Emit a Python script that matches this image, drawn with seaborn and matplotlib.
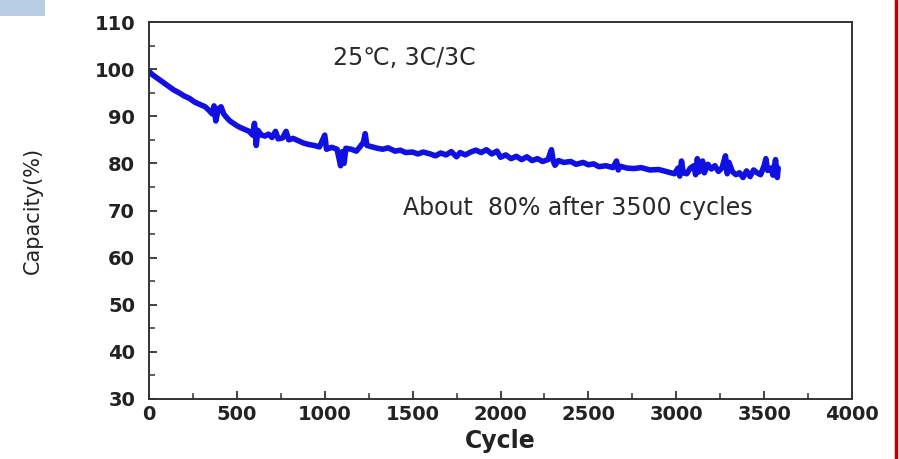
import matplotlib
matplotlib.use("Agg")
import matplotlib.pyplot as plt
import seaborn as sns
import pandas as pd
from matplotlib.ticker import MultipleLocator
from matplotlib.patches import Rectangle
from matplotlib.lines import Line2D

cycles = [0, 20, 50, 80, 110, 140, 170, 200, 230, 260, 290, 320, 340, 360, 370, 380, 395,
          410, 425, 440, 460, 480, 500, 520, 545, 570, 590, 600, 610, 620, 640, 660, 680,
          700, 720, 735, 760, 780, 795, 820, 850, 880, 910, 940, 970, 1000, 1010, 1040,
          1070, 1090, 1100, 1110, 1120, 1150, 1180, 1200, 1220, 1230, 1240, 1270, 1300,
          1330, 1360, 1400, 1430, 1460, 1500, 1530, 1560, 1600, 1630, 1660, 1690, 1720,
          1750, 1770, 1800, 1830, 1860, 1890, 1920, 1950, 1980, 2000, 2030, 2060, 2090,
          2120, 2150, 2180, 2210, 2240, 2270, 2290, 2300, 2310, 2330, 2360, 2400, 2430,
          2470, 2500, 2530, 2560, 2600, 2640, 2660, 2670, 2680, 2720, 2760, 2800, 2850,
          2900, 2950, 2990, 3010, 3020, 3030, 3040, 3060, 3080, 3100, 3110, 3120, 3130,
          3150, 3160, 3180, 3200, 3220, 3240, 3260, 3280, 3290, 3300, 3320, 3340, 3360,
          3380, 3400, 3420, 3440, 3460, 3480, 3500, 3510, 3520, 3540, 3550, 3565, 3575,
          3580]
capacity = [99.5, 98.8, 98.0, 97.2, 96.4, 95.6, 95.0, 94.3, 93.8, 93.0, 92.5, 92.0, 91.3,
            90.5, 92.2, 89.0, 91.6, 92.0, 90.5, 89.8, 89.0, 88.5, 88.0, 87.6, 87.2, 86.8,
            86.0, 88.5, 83.8, 87.0, 86.0, 85.8, 86.2, 85.5, 86.8, 85.2, 85.4, 86.8, 85.0,
            85.3, 84.8, 84.3, 84.0, 83.8, 83.5, 86.0, 83.0, 83.4, 83.0, 79.5, 82.5, 80.0,
            83.2, 83.0, 82.6, 83.5, 84.5, 86.3, 83.8, 83.5, 83.2, 83.0, 83.3, 82.6, 82.8,
            82.3, 82.4, 82.0, 82.4, 82.0, 81.6, 82.2, 81.8, 82.5, 81.4, 82.3, 81.8, 82.4,
            82.8, 82.3, 82.9, 82.0, 82.6, 81.3, 81.8, 81.0, 81.5, 80.8, 81.4, 80.6, 81.0,
            80.4, 80.8, 82.9, 80.5, 79.6, 80.6, 80.2, 80.4, 79.8, 80.2, 79.7, 79.9, 79.3,
            79.5, 79.1, 80.5, 78.6, 79.4, 79.0, 78.9, 79.1, 78.6, 78.7, 78.2, 77.8, 79.0,
            77.3, 80.5, 78.0, 77.8, 79.0, 79.5, 77.6, 81.0, 78.2, 80.5, 78.0, 79.8, 78.8,
            79.5, 78.3, 79.0, 81.6, 77.8, 80.2, 78.2, 77.6, 78.0, 77.0, 78.4, 77.2, 78.6,
            78.0, 77.6, 79.5, 81.0, 78.5, 79.0, 77.5, 80.8, 77.0, 79.0]

x_ticks = [0, 500, 1000, 1500, 2000, 2500, 3000, 3500, 4000]
y_ticks = [30, 40, 50, 60, 70, 80, 90, 100, 110]

df = pd.DataFrame({"Cycle": cycles, "Capacity": capacity})

sns.set_style("ticks")
plt.rcParams['font.family'] = ['DejaVu Sans']

fig = plt.figure(figsize=(8.99, 4.59), dpi=100)
ax = fig.add_axes([149 / 899, 1 - 399 / 459, (852 - 149) / 899, (399 - 22) / 459])

sns.lineplot(data=df, x="Cycle", y="Capacity", ax=ax, sort=False, estimator=None,
             color="#1010e2", linewidth=4.0)

ax.set_xlim(0, 4000)
ax.set_ylim(30, 110)
ax.set_xticks(x_ticks)
ax.set_yticks(y_ticks)
ax.xaxis.set_minor_locator(MultipleLocator(250))
ax.yaxis.set_minor_locator(MultipleLocator(5))
ax.tick_params(axis='both', which='major', direction='in', length=6, width=1.3,
               color='#333333', top=False, right=False, labelsize=14)
ax.tick_params(axis='x', which='major', pad=4)
ax.tick_params(axis='y', which='major', pad=10)
ax.tick_params(axis='both', which='minor', direction='in', length=4, width=1.1,
               color='#333333', top=False, right=False)
for lab in ax.get_xticklabels() + ax.get_yticklabels():
    lab.set_fontweight('bold')
    lab.set_color('#222222')
for s in ax.spines.values():
    s.set_visible(True)
    s.set_linewidth(1.4)
    s.set_color('#333333')

ax.set_xlabel("Cycle", fontsize=17, fontweight='bold', color='#222222', labelpad=4)
ax.set_ylabel("Capacity(%)", fontsize=15, color='#222222')
ax.yaxis.set_label_coords((43 - 149) / 703, 0.5)

ax.text(1047, 102.4, "25\u2103, 3C/3C", fontsize=17, color='#2a2a2a', va='center',
        ha='left')
ax.text(1445, 70.5, "About  80% after 3500 cycles", fontsize=17, color='#2a2a2a',
        va='center', ha='left')

fig.patches.append(Rectangle((0, 1 - 16 / 459), 45 / 899, 16 / 459, transform=fig.transFigure,
                             facecolor='#b8cce4', edgecolor='none'))
fig.lines.append(Line2D([896 / 899, 896 / 899], [0, 1], transform=fig.transFigure,
                        color='#c00000', linewidth=2.5))

fig.savefig("out.png", dpi=100)
